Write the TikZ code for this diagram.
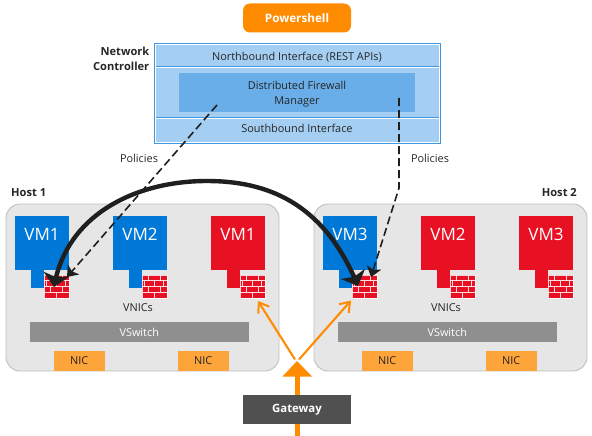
\documentclass[tikz,border=0pt]{standalone}
\usepackage{fontspec}
\setmainfont{Open Sans}
\usetikzlibrary{arrows.meta,calc,bending}
\definecolor{hostgray}{HTML}{E6E6E6}
\definecolor{hostline}{HTML}{BFBFBF}
\definecolor{orangeA}{HTML}{FF8C00}
\definecolor{nicorange}{HTML}{FDA43A}
\definecolor{vmblue}{HTML}{0078D7}
\definecolor{vmred}{HTML}{E81123}
\definecolor{ncfill}{HTML}{A4CFF2}
\definecolor{ncline}{HTML}{3E98E3}
\definecolor{dfmfill}{HTML}{69AEE8}
\definecolor{swgray}{HTML}{8F8F8F}
\definecolor{gwgray}{HTML}{505050}
\definecolor{inkdark}{HTML}{262626}
\definecolor{thickk}{HTML}{1F1F1F}
\tikzset{
  lbl/.style={font=\fontsize{10.9}{15}\selectfont,text=inkdark,inner sep=0pt,align=center},
  boldlbl/.style={font=\fontsize{11.1}{14.5}\selectfont\bfseries,text=inkdark,inner sep=0pt},
  hostbox/.style={draw=hostline,line width=0.9pt,fill=hostgray,rounded corners=14pt,minimum width=273pt,minimum height=167pt,inner sep=0pt},
  nicbox/.style={fill=nicorange,draw=none,minimum width=50.5pt,minimum height=20pt,inner sep=0pt,font=\fontsize{10.9}{13}\selectfont,text=inkdark},
  switchbox/.style={fill=swgray,draw=none,minimum width=218.5pt,minimum height=20pt,inner sep=0pt,font=\fontsize{10.9}{13}\selectfont,text=white},
  vmbox/.style={draw=none,minimum width=54pt,minimum height=54pt,inner sep=0pt},
  fwbox/.style={fill=vmred,draw=white,draw opacity=.8,line width=0.5pt,minimum width=25.5pt,minimum height=23pt,inner sep=0pt},
  bricks/.style={white,line width=0.6pt,opacity=.85},
  orangearrow/.style={draw=orangeA,line width=2.1pt,-{Straight Barb[length=9pt,width=13pt,line width=2pt]}},
  dasharrow/.style={draw=thickk,line width=1.6pt,dash pattern=on 8pt off 4pt,-{Stealth[length=10pt,width=15pt,inset=2.5pt,flex=0]}},
  bigarrow/.style={draw=thickk,line width=4.4pt,{Stealth[length=13pt,width=26pt,inset=3pt,flex=0.6]}-{Stealth[length=13pt,width=26pt,inset=3pt,flex=0.6]}},
}
% #1 name, #2 left x of the VM, #3 colour, #4 text
\newcommand{\vmunit}[4]{%
  \node[vmbox,fill=#3,anchor=north west] (#1) at (#2,216) {};
  \node[text=white,font=\fontsize{17}{20}\selectfont,inner sep=0pt] at (#2+27,234) {#4};
  \fill[#3] (#2+16,268) rectangle (#2+29,288);
  \node[fwbox,anchor=north west] (#1fw) at (#2+28.5,275) {};
  \begin{scope}[shift={(#2+28.5,275)}]
    \draw[bricks] (0,5.75) -- (25.5,5.75) (0,11.5) -- (25.5,11.5) (0,17.25) -- (25.5,17.25);
    \draw[bricks] (6.5,0) -- (6.5,5.75) (19,0) -- (19,5.75)
                  (12.75,5.75) -- (12.75,11.5) (3,5.75) -- (3,11.5) (22,5.75) -- (22,11.5)
                  (6.5,11.5) -- (6.5,17.25) (19,11.5) -- (19,17.25)
                  (12.75,17.25) -- (12.75,23);
  \end{scope}
}
\begin{document}
\begin{tikzpicture}[x=1pt,y=-1pt]
\useasboundingbox (0,0) rectangle (592,436);
% Powershell
\node[fill=orangeA,rounded corners=7pt,minimum width=108pt,minimum height=29pt,inner sep=0pt,
  font=\fontsize{11.7}{14}\selectfont\bfseries,text=white] (ps) at (297,18) {Powershell};
% Network controller
\node[draw=ncline,line width=1pt,fill=white,minimum width=285.5pt,minimum height=99.5pt,inner sep=0pt] (nc) at (297.25,93.25) {};
\fill[ncfill] (156,45) rectangle (438.5,141.5);
\draw[ncline,line width=0.9pt] (156,66.5) -- (438.5,66.5) (156,117) -- (438.5,117);
\draw[white,line width=0.7pt] (156,67.6) -- (438.5,67.6) (156,118.1) -- (438.5,118.1);
\node[lbl] (nb) at (297,57) {Northbound Interface (REST APIs)};
\node[fill=dfmfill,minimum width=236pt,minimum height=39pt,inner sep=0pt] (dfm) at (297,92.5) {};
\node[lbl] (dfmt) at (297,94) {Distributed Firewall\\Manager};
\node[lbl] (sb) at (297,128) {Southbound Interface};
\node[boldlbl,align=right,anchor=east] (nclabel) at (149.5,59) {Network\\Controller};
\node[lbl] (pol1) at (139,158) {Policies};
\node[lbl] (pol2) at (430,158) {Policies};
% Hosts
\node[boldlbl,anchor=west] (h1l) at (11,193) {Host 1};
\node[boldlbl,anchor=east] (h2l) at (577,193) {Host 2};
\node[hostbox] (h1) at (142.5,287.5) {};
\node[hostbox] (h2) at (450.5,287.5) {};
\vmunit{aa}{15}{vmblue}{VM1}
\vmunit{ab}{113}{vmblue}{VM2}
\vmunit{ac}{211}{vmred}{VM1}
\vmunit{ba}{323}{vmblue}{VM3}
\vmunit{bb}{421}{vmred}{VM2}
\vmunit{bc}{519}{vmred}{VM3}
\node[lbl] (v1) at (138,307.5) {VNICs};
\node[lbl] (v2) at (446,307.5) {VNICs};
\node[switchbox] (s1) at (139.25,332) {VSwitch};
\node[switchbox] (s2) at (447.25,332) {VSwitch};
\node[nicbox] (n1) at (79.25,361) {NIC};
\node[nicbox] (n2) at (203.25,361) {NIC};
\node[nicbox] (n3) at (387.25,361) {NIC};
\node[nicbox] (n4) at (511.25,361) {NIC};
% Gateway
\node[fill=gwgray,minimum width=108pt,minimum height=29pt,inner sep=0pt,
  font=\fontsize{11.4}{14}\selectfont\bfseries,text=white] (gw) at (297,409.5) {Gateway};
\coordinate (gbottom) at (297,436);
\coordinate (gapex) at (297,361);
\coordinate (gbase) at (297,376);
\draw[orangeA,line width=5pt] (gbottom) -- (gw.south);
\draw[orangeA,line width=5pt] (gw.north) -- (gbase);
\fill[orangeA] (gapex) -- (312,376.5) -- (282.5,376.5) -- cycle;
\coordinate (ol) at (295,359.5);
\coordinate (or) at (299,359.5);
\coordinate (olt) at (258,301);
\coordinate (ort) at (351,300.5);
\draw[orangearrow] (ol) -- (olt);
\draw[orangearrow] (or) -- (ort);
% Dashed policy arrows
\coordinate (d1s) at (217,105);
\coordinate (d1e) at (67,277);
\coordinate (d2s) at (399,98);
\coordinate (d2m) at (399,188);
\coordinate (d2e) at (371,277);
\draw[dasharrow] (d1s) -- (d1e);
\draw[dasharrow] (d2s) -- (d2m) -- (d2e);
% Thick arrow
\coordinate (t1) at (54,287);
\coordinate (t2) at (358,286);
\coordinate (ttop) at (207,181);
\draw[bigarrow] (t1) .. controls (66,215) and (135,181) .. (ttop) .. controls (270,181) and (325,205) .. (t2);
\end{tikzpicture}
\end{document}
